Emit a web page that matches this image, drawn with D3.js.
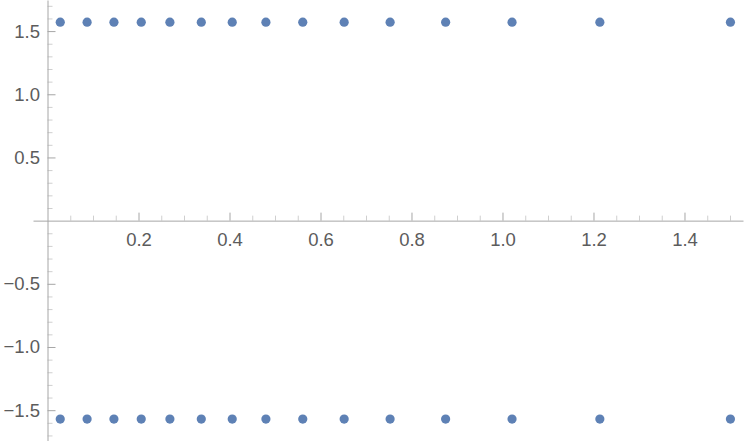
<!DOCTYPE html>
<html>
<head>
<meta charset="utf-8">
<script src="https://cdn.jsdelivr.net/npm/d3@7"></script>
<style>
  html, body { margin: 0; padding: 0; background: #fff; }
  svg { display: block; }
</style>
</head>
<body>
<svg id="chart" width="747" height="444"></svg>
<script>
// ---- data ----
const xValues = [0.028, 0.087, 0.146, 0.206, 0.269, 0.338, 0.406, 0.480, 0.561, 0.652, 0.753, 0.875, 1.021, 1.214, 1.501];
const upperY  = [1.5708, 1.5708, 1.5708, 1.5708, 1.5708, 1.5708, 1.5708, 1.5708, 1.5708, 1.5708, 1.5708, 1.5708, 1.5708, 1.5708, 1.5708];
const lowerY  = [-1.5708, -1.5708, -1.5708, -1.5708, -1.5708, -1.5708, -1.5708, -1.5708, -1.5708, -1.5708, -1.5708, -1.5708, -1.5708, -1.5708, -1.5708];
const xTickValues = [0.2, 0.4, 0.6, 0.8, 1.0, 1.2, 1.4];
const xTickLabels = ["0.2", "0.4", "0.6", "0.8", "1.0", "1.2", "1.4"];
const yTickValues = [-1.5, -1.0, -0.5, 0.5, 1.0, 1.5];
const yTickLabels = ["\u22121.5", "\u22121.0", "\u22120.5", "0.5", "1.0", "1.5"];

// ---- layout ----
const svg = d3.select("#chart");
const x = d3.scaleLinear().domain([-0.0319, 1.5286]).range([33, 743]);
const y = d3.scaleLinear().domain([-1.740, 1.746]).range([440.5, 0]);

const axisColor = "#a6a6a6";
const minorColor = "#cfcfcf";
const labelColor = "#5c5c5c";
const font = "'Liberation Sans', Arial, sans-serif";
const fontSize = "18.5px";

// minor ticks
const xMinor = d3.range(0.05, 1.51, 0.05).filter(v => Math.abs(v / 0.2 - Math.round(v / 0.2)) > 1e-6);
const yMinor = d3.range(-1.7, 1.71, 0.1).filter(v => Math.abs(v * 2 - Math.round(v * 2)) > 1e-6 && Math.abs(v) > 1e-6);

const gx0 = svg.append("g").attr("transform", `translate(0,${y(0)})`)
  .call(d3.axisBottom(x).tickValues(xMinor).tickSize(-5).tickFormat(""));
gx0.select(".domain").remove();
gx0.selectAll("line").attr("stroke", minorColor);

const gy0 = svg.append("g").attr("transform", `translate(${x(0)},0)`)
  .call(d3.axisLeft(y).tickValues(yMinor).tickSize(-5).tickFormat(""));
gy0.select(".domain").remove();
gy0.selectAll("line").attr("stroke", minorColor);

// major axes
const gx = svg.append("g").attr("transform", `translate(0,${y(0)})`)
  .call(d3.axisBottom(x).tickValues(xTickValues).tickSize(-8).tickSizeOuter(0).tickPadding(12)
    .tickFormat((d, i) => xTickLabels[i]));
gx.select(".domain").attr("stroke", axisColor);
gx.selectAll("line").attr("stroke", axisColor);
gx.selectAll("text").attr("fill", labelColor).style("font-family", font).style("font-size", fontSize);

const gy = svg.append("g").attr("transform", `translate(${x(0)},0)`)
  .call(d3.axisLeft(y).tickValues(yTickValues).tickSize(-8).tickSizeOuter(0).tickPadding(7.5)
    .tickFormat((d, i) => yTickLabels[i]));
gy.select(".domain").attr("stroke", axisColor);
gy.selectAll("line").attr("stroke", axisColor);
gy.selectAll("text").attr("fill", labelColor).style("font-family", font).style("font-size", fontSize);

// points
const pts = xValues.map((v, i) => ({ x: v, y: upperY[i] }))
  .concat(xValues.map((v, i) => ({ x: v, y: lowerY[i] })));
svg.append("g").selectAll("circle").data(pts).join("circle")
  .attr("cx", d => x(d.x)).attr("cy", d => y(d.y)).attr("r", 4.6)
  .attr("fill", "#5e81b5");
</script>
</body>
</html>
